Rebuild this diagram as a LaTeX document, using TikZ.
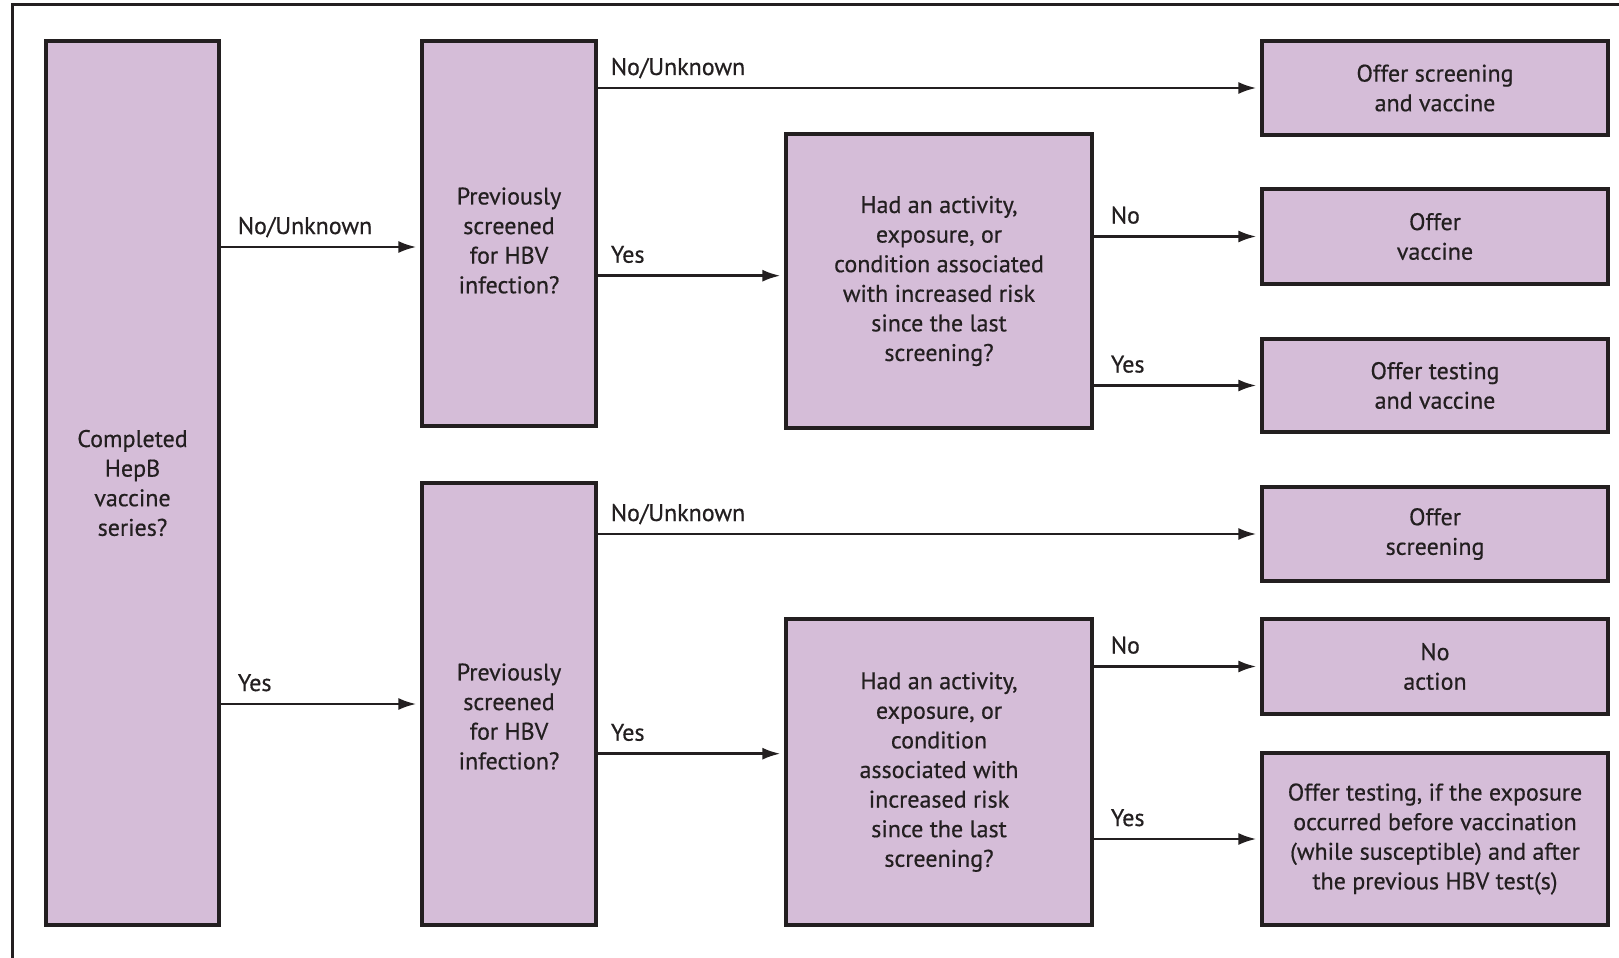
\documentclass[tikz,border=0pt]{standalone}
\usepackage{fontspec}
\setmainfont{PT Sans}[UprightFeatures={FakeBold=0.5}]
\usetikzlibrary{arrows.meta,calc}
\definecolor{boxfill}{RGB}{213,189,216}
\definecolor{ink}{RGB}{35,31,32}
\begin{document}
\begin{tikzpicture}[x=0.5pt,y=-0.5pt,
  box/.style={draw=ink, line width=1.6pt, fill=boxfill, inner sep=0pt, align=center,
    font=\fontsize{12}{14.8}\selectfont, text=ink},
  txt/.style={inner sep=0pt, align=center, font=\fontsize{12}{14.8}\selectfont, text=ink},
  conn/.style={draw=ink, line width=1.3pt, -{Latex[length=9pt,width=6pt]}, shorten >=2pt},
  lbl/.style={font=\fontsize{12}{14.8}\selectfont, text=ink, anchor=base west, inner sep=0pt}]
\useasboundingbox (0,0) rectangle (1619,958);
\fill[white] (0,0) rectangle (1619,958);
\draw[ink, line width=1.5pt] (12.5,4.5) rectangle (1660,1000);

% left column
\node[box, minimum width=86.5pt, minimum height=442pt] (A) at (132.5,483) {Completed\\HepB\\vaccine\\series?};
% second column
\node[box, minimum width=87pt, minimum height=192.5pt] (B1) at (509,233.5) {};
\node[txt] (B1t) at ($(B1.center)+(0,7)$) {Previously\\screened\\for HBV\\infection?};
\node[box, minimum width=87pt, minimum height=221pt] (B2) at (509,704) {};
\node[txt] (B2t) at ($(B2.center)+(0,12.5)$) {Previously\\screened\\for HBV\\infection?};
% third column
\node[box, minimum width=153pt, minimum height=147pt] (C1) at (939,281) {Had an activity,\\exposure, or\\condition associated\\with increased risk\\since the last\\screening?};
\node[box, minimum width=153pt, minimum height=153pt] (C2) at (939,772) {Had an activity,\\exposure, or\\condition\\associated with\\increased risk\\since the last\\screening?};
% right column
\node[box, minimum width=173pt, minimum height=47pt] (R1) at (1435,88) {Offer screening\\and vaccine};
\node[box, minimum width=173pt, minimum height=47.5pt] (R2) at (1435,236.5) {Offer\\vaccine};
\node[box, minimum width=173pt, minimum height=46.5pt] (R3) at (1435,385.5) {Offer testing\\and vaccine};
\node[box, minimum width=173pt, minimum height=47pt] (R4) at (1435,534) {Offer\\screening};
\node[box, minimum width=173pt, minimum height=47.5pt] (R5) at (1435,666.5) {No\\action};
\node[box, minimum width=173pt, minimum height=86pt] (R6) at (1435,839) {Offer testing, if the exposure\\occurred before vaccination\\(while susceptible) and after\\the previous HBV test(s)};

% connectors
\draw[conn] ($(A.east |- B1.west)+(0,13.5)$) -- node[lbl, pos=0, xshift=8pt, yshift=6.5pt] {No/Unknown} ($(B1.west)+(0,13.5)$);
\draw[conn] (A.east |- B2.west) -- node[lbl, pos=0, xshift=8pt, yshift=6.5pt] {Yes} (B2.west);

\draw[conn] (B1.east |- R1.west) -- node[lbl, pos=0, xshift=6pt, yshift=6.5pt] {No/Unknown} (R1.west);
\draw[conn] ($(B1.east |- C1.west)+(0,-5.3)$) -- node[lbl, pos=0, xshift=6pt, yshift=6.5pt] {Yes} ($(C1.west)+(0,-5.3)$);
\draw[conn] (B2.east |- R4.west) -- node[lbl, pos=0, xshift=6pt, yshift=6.5pt] {No/Unknown} (R4.west);
\draw[conn] ($(B2.east |- C2.west)+(0,-18.3)$) -- node[lbl, pos=0, xshift=6pt, yshift=6.5pt] {Yes} ($(C2.west)+(0,-18.3)$);

\draw[conn] (C1.east |- R2.west) -- node[lbl, pos=0, xshift=8pt, yshift=6.5pt] {No} (R2.west);
\draw[conn] (C1.east |- R3.west) -- node[lbl, pos=0, xshift=8pt, yshift=6.5pt] {Yes} (R3.west);
\draw[conn] (C2.east |- R5.west) -- node[lbl, pos=0, xshift=8pt, yshift=6.5pt] {No} (R5.west);
\draw[conn] (C2.east |- R6.west) -- node[lbl, pos=0, xshift=8pt, yshift=6.5pt] {Yes} (R6.west);
\end{tikzpicture}
\end{document}
